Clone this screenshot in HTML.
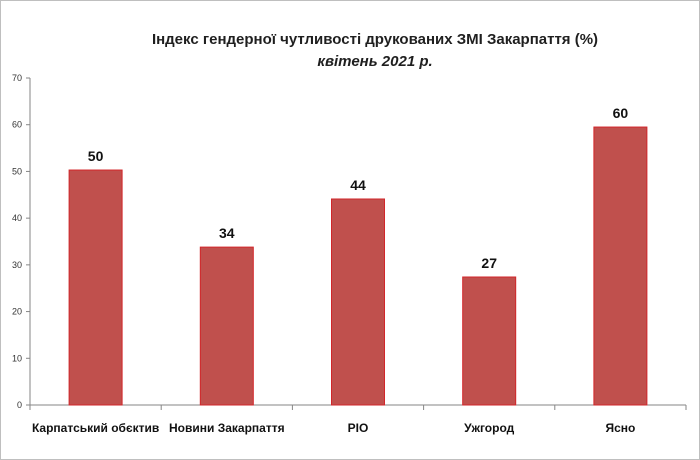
<!DOCTYPE html>
<html><head><meta charset="utf-8"><style>
body{margin:0;background:#fff;}
svg{display:block;font-family:"Liberation Sans",sans-serif;}
</style></head><body>
<svg id="c" width="700" height="460">
<rect x="0.5" y="0.5" width="699" height="459" fill="#fff" stroke="#bfbfbf"/>
<text x="375" y="44" text-anchor="middle" font-size="15" font-weight="bold" fill="#1f1f1f">Індекс гендерної чутливості друкованих ЗМІ Закарпаття (%)</text>
<text x="375" y="66" text-anchor="middle" font-size="15" font-weight="bold" font-style="italic" fill="#1f1f1f">квітень 2021 р.</text>
<g id="g"></g>
</svg>
<script>
const categories=["Карпатський обєктив","Новини Закарпаття","РІО","Ужгород","Ясно"];
const values=[50.3,33.8,44.1,27.4,59.5];
const yTicks=[0,10,20,30,40,50,60,70];
const X0=30,X1=686,Y0=405,Y1=78,YMAX=70;
const y=v=>Y0-(v/YMAX)*(Y0-Y1);
const cw=(X1-X0)/categories.length;
const x=i=>X0+cw*i;
const g=document.getElementById('g');
const NS="http://www.w3.org/2000/svg";
function el(t,a){const e=document.createElementNS(NS,t);for(const k in a)e.setAttribute(k,a[k]);g.appendChild(e);return e;}
let ax=el('line',{x1:X0,y1:Y1,x2:X0,y2:Y0,stroke:'#868686'});


let xa=el('line',{x1:X0,y1:Y0,x2:X1,y2:Y0,stroke:'#868686'});


yTicks.forEach(t=>{
 let l=el('line',{x1:X0-4,y1:y(t),x2:X0,y2:y(t),stroke:'#868686'});
 
 
 let tx=el('text',{x:X0-8,y:y(t)+3,'text-anchor':'end','font-size':'9',fill:'#333'});
 tx.textContent=t;
 
 
});
for(let i=0;i<=categories.length;i++){
 let l=el('line',{x1:x(i),y1:Y0,x2:x(i),y2:Y0+5,stroke:'#868686'});
 
 
}
categories.forEach((c,i)=>{
 const cx=x(i)+cw/2,bw=53;
 let r=el('rect',{x:cx-bw/2,y:y(values[i]),width:bw,height:Y0-y(values[i]),fill:'#c0504d',stroke:'#d2262a','stroke-width':1});
 
 
 let v=el('text',{x:cx,y:y(values[i])-9,'text-anchor':'middle','font-size':'14','font-weight':'bold',fill:'#111'});
 v.textContent=Math.round(values[i]);
 
 
 let t=el('text',{x:cx,y:432,'text-anchor':'middle','font-size':'12','font-weight':'bold',fill:'#111'});
 t.textContent=c;
 
 
});
</script>
</body></html>
